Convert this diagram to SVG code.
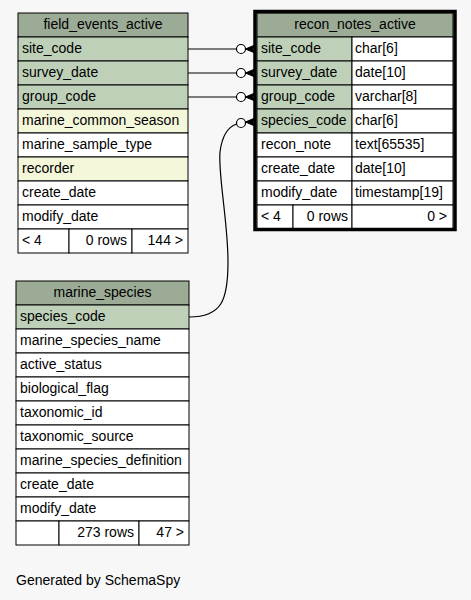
<svg xmlns="http://www.w3.org/2000/svg" width="471" height="600" viewBox="0 0 471 600">
<style>
text{font-family:"Liberation Sans",Arial,sans-serif;font-size:14px;fill:#000}
.c{text-anchor:middle}
.r{text-anchor:end}
.hd{fill:#9bab96;stroke:#000;stroke-width:1}
.pk{fill:#bed1b8;stroke:#000;stroke-width:1}
.ix{fill:#f4f7da;stroke:#000;stroke-width:1}
.pl{fill:#fff;stroke:#000;stroke-width:1}
.ln{fill:none;stroke:#000;stroke-width:1.2}
.od{fill:#fff;stroke:#000;stroke-width:1.2}
.cr{fill:#000;stroke:#000;stroke-width:1}
</style>
<rect width="471" height="600" fill="#f7f7f7"/>

<g id="field_events_active">
<rect class="hd" x="18" y="13" width="170" height="24"/>
<text class="c" x="103" y="29">field_events_active</text>
<rect class="pk" x="18" y="37" width="170" height="24"/><text x="22" y="53">site_code</text>
<rect class="pk" x="18" y="61" width="170" height="24"/><text x="22" y="77">survey_date</text>
<rect class="pk" x="18" y="85" width="170" height="24"/><text x="22" y="101">group_code</text>
<rect class="ix" x="18" y="109" width="170" height="24"/><text x="22" y="125">marine_common_season</text>
<rect class="pl" x="18" y="133" width="170" height="24"/><text x="22" y="149">marine_sample_type</text>
<rect class="ix" x="18" y="157" width="170" height="24"/><text x="22" y="173">recorder</text>
<rect class="pl" x="18" y="181" width="170" height="24"/><text x="22" y="197">create_date</text>
<rect class="pl" x="18" y="205" width="170" height="24"/><text x="22" y="221">modify_date</text>
<rect class="pl" x="18" y="229" width="51" height="24"/><text x="22" y="245">&lt; 4</text>
<rect class="pl" x="69" y="229" width="63" height="24"/><text class="r" x="127" y="245">0 rows</text>
<rect class="pl" x="132" y="229" width="56" height="24"/><text class="r" x="183" y="245">144 &gt;</text>
</g>

<g id="recon_notes_active">
<rect class="hd" x="257" y="13" width="196" height="24"/>
<text class="c" x="355" y="29">recon_notes_active</text>
<rect class="pk" x="257" y="37" width="95" height="24"/><text x="261" y="53">site_code</text>
<rect class="pl" x="352" y="37" width="101" height="24"/><text x="355" y="53">char[6]</text>
<rect class="pk" x="257" y="61" width="95" height="24"/><text x="261" y="77">survey_date</text>
<rect class="pl" x="352" y="61" width="101" height="24"/><text x="355" y="77">date[10]</text>
<rect class="pk" x="257" y="85" width="95" height="24"/><text x="261" y="101">group_code</text>
<rect class="pl" x="352" y="85" width="101" height="24"/><text x="355" y="101">varchar[8]</text>
<rect class="pk" x="257" y="109" width="95" height="24"/><text x="261" y="125">species_code</text>
<rect class="pl" x="352" y="109" width="101" height="24"/><text x="355" y="125">char[6]</text>
<rect class="pl" x="257" y="133" width="95" height="24"/><text x="261" y="149">recon_note</text>
<rect class="pl" x="352" y="133" width="101" height="24"/><text x="355" y="149">text[65535]</text>
<rect class="pl" x="257" y="157" width="95" height="24"/><text x="261" y="173">create_date</text>
<rect class="pl" x="352" y="157" width="101" height="24"/><text x="355" y="173">date[10]</text>
<rect class="pl" x="257" y="181" width="95" height="24"/><text x="261" y="197">modify_date</text>
<rect class="pl" x="352" y="181" width="101" height="24"/><text x="355" y="197">timestamp[19]</text>
<rect class="pl" x="257" y="205" width="36" height="24"/><text x="261" y="221">&lt; 4</text>
<rect class="pl" x="293" y="205" width="59" height="24"/><text class="r" x="348" y="221">0 rows</text>
<rect class="pl" x="352" y="205" width="101" height="24"/><text class="r" x="447" y="221">0 &gt;</text>
<rect x="255" y="11.5" width="200" height="218" fill="none" stroke="#000" stroke-width="3.5"/>
</g>

<g id="marine_species">
<rect class="hd" x="16" y="281" width="173" height="24"/>
<text class="c" x="102.5" y="297">marine_species</text>
<rect class="pk" x="16" y="305" width="173" height="24"/><text x="20" y="321">species_code</text>
<rect class="pl" x="16" y="329" width="173" height="24"/><text x="20" y="345">marine_species_name</text>
<rect class="pl" x="16" y="353" width="173" height="24"/><text x="20" y="369">active_status</text>
<rect class="pl" x="16" y="377" width="173" height="24"/><text x="20" y="393">biological_flag</text>
<rect class="pl" x="16" y="401" width="173" height="24"/><text x="20" y="417">taxonomic_id</text>
<rect class="pl" x="16" y="425" width="173" height="24"/><text x="20" y="441">taxonomic_source</text>
<rect class="pl" x="16" y="449" width="173" height="24"/><text x="20" y="465">marine_species_definition</text>
<rect class="pl" x="16" y="473" width="173" height="24"/><text x="20" y="489">create_date</text>
<rect class="pl" x="16" y="497" width="173" height="24"/><text x="20" y="513">modify_date</text>
<rect class="pl" x="16" y="521" width="43" height="24"/>
<rect class="pl" x="59" y="521" width="80" height="24"/><text class="r" x="134" y="537">273 rows</text>
<rect class="pl" x="139" y="521" width="50" height="24"/><text class="r" x="184" y="537">47 &gt;</text>
</g>

<g id="connectors">
<line class="ln" x1="188" y1="49" x2="236.5" y2="49"/>
<circle class="od" cx="241" cy="49" r="4.5"/>
<polygon class="cr" points="245.5,49 256,44.5 252,49 256,53.5"/>
<line class="ln" x1="245.5" y1="49" x2="256" y2="49"/>

<line class="ln" x1="188" y1="73" x2="236.5" y2="73"/>
<circle class="od" cx="241" cy="73" r="4.5"/>
<polygon class="cr" points="245.5,73 256,68.5 252,73 256,77.5"/>
<line class="ln" x1="245.5" y1="73" x2="256" y2="73"/>

<line class="ln" x1="188" y1="97" x2="236.5" y2="97"/>
<circle class="od" cx="241" cy="97" r="4.5"/>
<polygon class="cr" points="245.5,97 256,92.5 252,97 256,101.5"/>
<line class="ln" x1="245.5" y1="97" x2="256" y2="97"/>

<path class="ln" d="M189,317 C222,317 228,300 228,262 C228,222 218,175 220,152 C222,136 228,127 236.5,124"/>
<circle class="od" cx="241" cy="123" r="4.5"/>
<polygon class="cr" points="245.5,122 256,117.5 252,122 256,126.5"/>
<line class="ln" x1="245.5" y1="122" x2="256" y2="122"/>
</g>

<text x="16" y="585">Generated by SchemaSpy</text>
</svg>
